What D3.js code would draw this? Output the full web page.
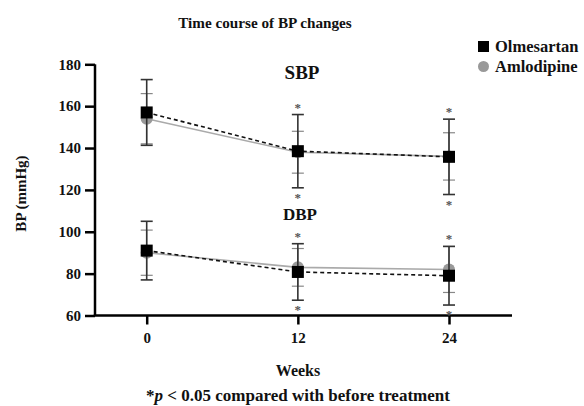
<!DOCTYPE html>
<html>
<head>
<meta charset="utf-8">
<script src="https://cdn.jsdelivr.net/npm/d3@7"></script>
<style>
  body { margin: 0; background: #fff; }
  svg { display: block; }
  text { font-family: "Liberation Serif", "Times New Roman", serif; font-weight: bold; fill: #111; }
</style>
</head>
<body>
<svg id="chart" width="584" height="406"></svg>
<script>
// ---- data ----
const weeks = [0, 12, 24];
const weekLabels = ["0", "12", "24"];
const yTicks = [60, 80, 100, 120, 140, 160, 180];
const sbpOlm = [157, 138.5, 135.8];
const sbpOlmSD = [15.7, 17.5, 18];
const sbpAml = [154, 138, 136];
const sbpAmlSD = [12, 10, 11.3];
const dbpOlm = [91, 80.8, 79];
const dbpOlmSD = [14, 13.5, 14];
const dbpAml = [90, 83, 82];
const dbpAmlSD = [10.8, 9, 11];
const significant = [false, true, true];
const seriesNames = ["Olmesartan", "Amlodipine"];

const svg = d3.select("#chart");
const x = d3.scaleLinear().domain([0, 24]).range([146.7, 449]);
const y = d3.scaleLinear().domain([60, 180]).range([315.5, 64.3]);
const x0 = 95, x1 = 512;

// axes
const yAxis = svg.append("g").attr("transform", `translate(${x0},0)`)
  .call(d3.axisLeft(y).tickValues(yTicks).tickSize(10).tickPadding(4));
yAxis.select(".domain").attr("d", `M0,${y(180)}V${y(60)}`).attr("stroke", "#000").attr("stroke-width", 2.5);
yAxis.selectAll(".tick line").attr("stroke", "#000").attr("stroke-width", 2.5);
yAxis.selectAll(".tick text").attr("font-size", 15).attr("fill", "#111")
  .style("font-family", "Liberation Serif, serif").style("font-weight", "bold");

const xAxis = svg.append("g").attr("transform", `translate(0,${y(60)})`)
  .call(d3.axisBottom(x).tickValues(weeks).tickFormat((d, i) => weekLabels[i]).tickSize(9).tickPadding(8));
xAxis.select(".domain").attr("d", `M${x0 - 1.2},0H${x1}`).attr("stroke", "#000").attr("stroke-width", 2.5);
xAxis.selectAll(".tick line").attr("stroke", "#000").attr("stroke-width", 2.5);
xAxis.selectAll(".tick text").attr("font-size", 15).attr("fill", "#111")
  .style("font-family", "Liberation Serif, serif").style("font-weight", "bold");

// plotting
function drawGroup(olm, olmSD, aml, amlSD) {
  const line = d3.line().x((d, i) => x(weeks[i])).y(d => y(d));
  // amlodipine (gray)
  svg.append("path").attr("d", line(aml)).attr("fill", "none").attr("stroke", "#aaa").attr("stroke-width", 1.6);
  aml.forEach((v, i) => {
    const cx = x(weeks[i]);
    const g = svg.append("g").attr("stroke", "#888").attr("stroke-width", 1.2);
    g.append("line").attr("x1", cx).attr("x2", cx).attr("y1", y(v + amlSD[i])).attr("y2", y(v - amlSD[i]));
    [v + amlSD[i], v - amlSD[i]].forEach(e =>
      g.append("line").attr("x1", cx - 6).attr("x2", cx + 6).attr("y1", y(e)).attr("y2", y(e)));
  });
  aml.forEach((v, i) => svg.append("circle").attr("cx", x(weeks[i])).attr("cy", y(v)).attr("r", 6).attr("fill", "#999"));
  // olmesartan (black, dashed)
  svg.append("path").attr("d", line(olm)).attr("fill", "none").attr("stroke", "#111")
    .attr("stroke-width", 1.6).attr("stroke-dasharray", "4,3");
  olm.forEach((v, i) => {
    const cx = x(weeks[i]);
    const g = svg.append("g").attr("stroke", "#333").attr("stroke-width", 1.6);
    g.append("line").attr("x1", cx).attr("x2", cx).attr("y1", y(v + olmSD[i])).attr("y2", y(v - olmSD[i]));
    [v + olmSD[i], v - olmSD[i]].forEach(e =>
      g.append("line").attr("x1", cx - 6).attr("x2", cx + 6).attr("y1", y(e)).attr("y2", y(e)));
  });
  olm.forEach((v, i) => svg.append("rect").attr("x", x(weeks[i]) - 6).attr("y", y(v) - 6)
    .attr("width", 12).attr("height", 12).attr("fill", "#000"));
  // significance asterisks
  olm.forEach((v, i) => {
    if (!significant[i]) return;
    const cx = x(weeks[i]);
    const top = Math.max(v + olmSD[i], aml[i] + amlSD[i]);
    const bot = Math.min(v - olmSD[i], aml[i] - amlSD[i]);
    svg.append("text").attr("x", cx).attr("y", y(top) - 3).attr("text-anchor", "middle")
      .attr("font-size", 13).style("fill", "#555").text("*");
    svg.append("text").attr("x", cx).attr("y", y(bot) + 14).attr("text-anchor", "middle")
      .attr("font-size", 13).style("fill", "#555").text("*");
  });
}
drawGroup(sbpOlm, sbpOlmSD, sbpAml, sbpAmlSD);
drawGroup(dbpOlm, dbpOlmSD, dbpAml, dbpAmlSD);

// group labels
svg.append("text").attr("x", 302).attr("y", 79).attr("text-anchor", "middle").attr("font-size", 19).text("SBP");
svg.append("text").attr("x", 300).attr("y", 220).attr("text-anchor", "middle").attr("font-size", 17).text("DBP");

// title & labels
svg.append("text").attr("x", 265).attr("y", 28).attr("text-anchor", "middle").attr("font-size", 15.2).text("Time course of BP changes");
svg.append("text").attr("x", 298).attr("y", 376).attr("text-anchor", "middle").attr("font-size", 16).text("Weeks");
const foot = svg.append("text").attr("x", 298).attr("y", 401).attr("text-anchor", "middle").attr("font-size", 17);
foot.append("tspan").text("*");
foot.append("tspan").style("font-style", "italic").text("p");
foot.append("tspan").text(" < 0.05 compared with before treatment");
svg.append("text").attr("transform", "translate(26,193.5) rotate(-90)").attr("text-anchor", "middle")
  .attr("font-size", 15).text("BP (mmHg)");

// legend
const lg = svg.append("g");
lg.append("rect").attr("x", 478).attr("y", 41).attr("width", 11).attr("height", 11).attr("fill", "#000");
lg.append("text").attr("x", 495).attr("y", 51.5).attr("font-size", 16.5).text(seriesNames[0]);
lg.append("circle").attr("cx", 483.5).attr("cy", 66.5).attr("r", 5.5).attr("fill", "#999");
lg.append("text").attr("x", 495).attr("y", 72).attr("font-size", 16.5).text(seriesNames[1]);
</script>
</body>
</html>
